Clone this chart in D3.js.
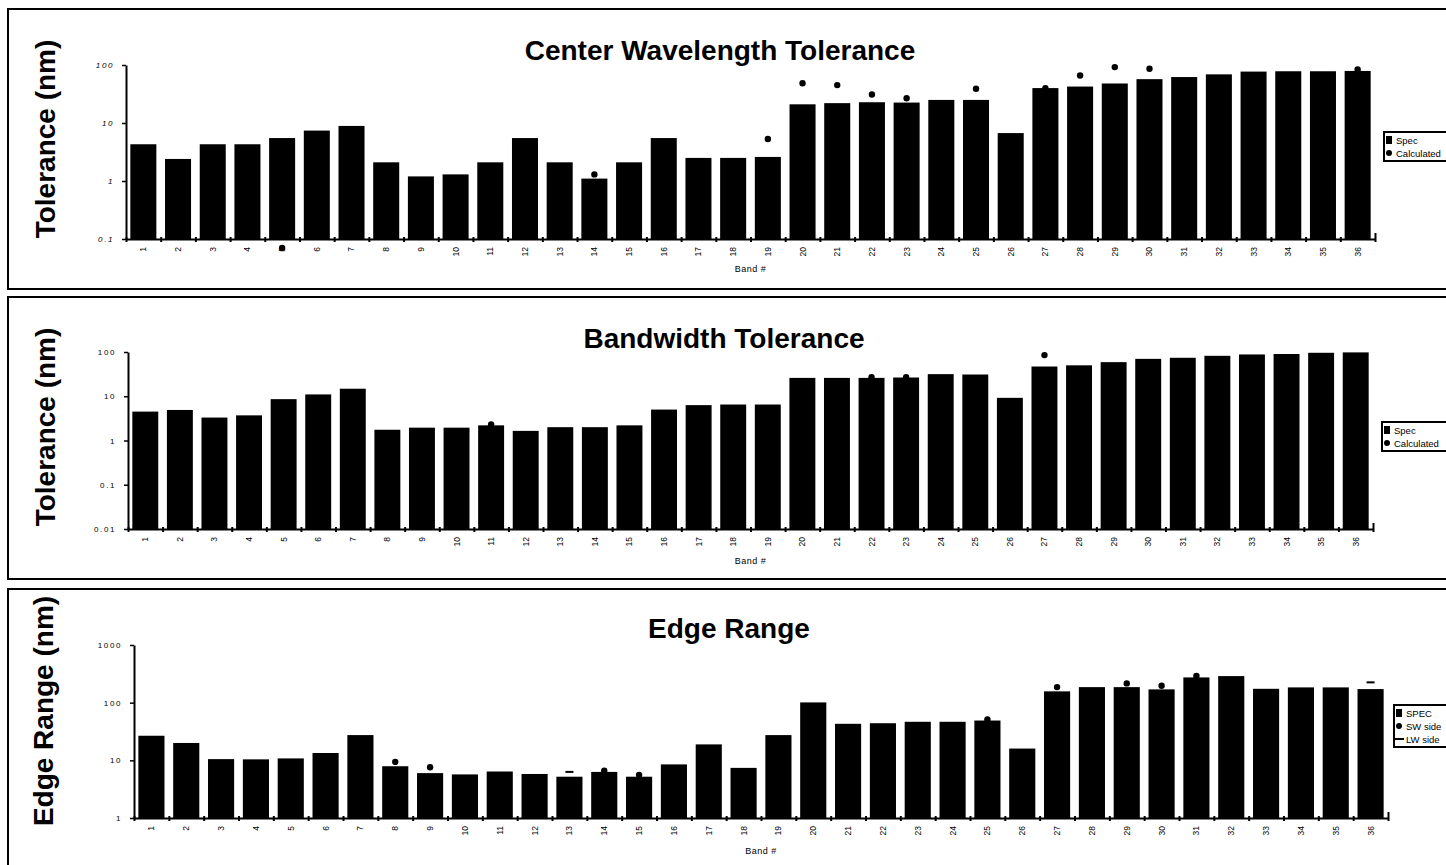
<!DOCTYPE html>
<html>
<head>
<meta charset="utf-8">
<script src="https://cdn.jsdelivr.net/npm/d3@7"></script>
<style>
  html, body { margin: 0; padding: 0; background: #fff; }
  svg { display: block; font-family: "Liberation Sans", Arial, Helvetica, sans-serif; }
</style>
</head>
<body>
<svg id="chart" width="1446" height="865"></svg>
<script>
// Band numbers along the x axis
const bandLabels = ["1","2","3","4","5","6","7","8","9","10","11","12","13","14","15","16","17","18",
  "19","20","21","22","23","24","25","26","27","28","29","30","31","32","33","34","35","36"];

// Center wavelength tolerance (nm)
const centerSpec = [4.3, 2.4, 4.3, 4.3, 5.5, 7.4, 8.9, 2.1, 1.2, 1.3, 2.1, 5.5, 2.1, 1.1, 2.1, 5.5, 2.5, 2.5,
  2.6, 21, 22, 22.8, 22.5, 25, 25, 6.7, 40, 42.5, 48, 57, 62, 69, 77, 78, 78, 79];
const centerCalc = [null, null, null, null, 0.07, null, null, null, null, null, null, null, null, 1.3, null, null, null, null,
  5.3, 48.5, 45, 31, 26.7, null, 39, null, 40, 66, 92, 86, null, null, null, null, null, 84];
const centerTicks = [0.1, 1, 10, 100];
const centerTickText = ["0.1", "1", "10", "100"];

// Bandwidth tolerance (nm)
const bandwidthSpec = [4.5, 4.9, 3.3, 3.7, 8.6, 11, 14.8, 1.75, 1.95, 1.95, 2.2, 1.65, 2.0, 2.0, 2.2, 5.0, 6.3, 6.5,
  6.5, 26, 26, 26, 26.5, 31.6, 31, 9.2, 47, 50, 59, 70, 74, 82, 88, 90, 96, 98];
const bandwidthCalc = [null, null, null, null, null, null, null, null, null, null, 2.3, null, null, null, null, null, null, null,
  null, null, null, 27, 27, null, null, null, 85, null, null, null, null, null, null, null, null, null];
const bandwidthTicks = [0.01, 0.1, 1, 10, 100];
const bandwidthTickText = ["0.01", "0.1", "1", "10", "100"];

// Edge range (nm)
const edgeSpec = [26.7, 20, 10.5, 10.4, 10.8, 13.4, 27.4, 7.9, 6.0, 5.7, 6.4, 5.8, 5.2, 6.3, 5.2, 8.5, 18.9, 7.4,
  27.4, 101, 43, 44, 46.6, 46.6, 49, 16, 157, 186, 186, 170, 274, 289, 174, 184, 184, 172];
const edgeSW = [null, null, null, null, null, null, null, 9.4, 7.6, null, null, null, null, 6.6, 5.6, null, null, null,
  null, null, null, null, null, null, 51, null, 186, null, 216, 196, 290, null, null, null, null, null];
const edgeLW = [null, null, null, null, null, null, null, null, null, null, null, null, 6.3, null, null, null, null, null,
  null, null, null, null, null, null, null, null, null, null, null, null, null, null, null, null, null, 225];
const edgeTicks = [1, 10, 100, 1000];
const edgeTickText = ["1", "10", "100", "1000"];

const svg = d3.select("#chart");

function drawPanel(p) {
  const g = svg.append("g");

  // frame around the panel (runs off the right edge)
  g.append("rect")
    .attr("x", p.frame[0]).attr("y", p.frame[1])
    .attr("width", p.frame[2]).attr("height", p.frame[3])
    .attr("fill", "none").attr("stroke", "#000").attr("stroke-width", 2);

  const x = d3.scaleBand().domain(bandLabels).range([p.x0, p.x1])
    .paddingInner(0.25).paddingOuter(0.125);
  const edges = d3.scaleLinear().domain([0, bandLabels.length]).range([p.x0, p.x1]);
  const y = d3.scaleLog().domain(p.domain).range([p.yBottom, p.yTop]);

  // bars
  g.append("g").selectAll("rect").data(p.spec).join("rect")
    .attr("x", (d, i) => x(bandLabels[i]))
    .attr("y", d => y(d))
    .attr("width", x.bandwidth())
    .attr("height", d => p.yBottom - y(d))
    .attr("fill", "#000");

  // y axis
  const yAxis = g.append("g").attr("transform", `translate(${p.x0},0)`)
    .call(d3.axisLeft(y).tickValues(p.ticks).tickFormat((d, i) => p.tickText[i]).tickSizeInner(4).tickSizeOuter(0).tickPadding(8));
  yAxis.select(".domain").attr("stroke-width", 2);
  yAxis.selectAll(".tick line").attr("stroke-width", 1.5);
  yAxis.selectAll("text").attr("font-size", 8).attr("letter-spacing", 1.6)
    .attr("font-style", p.italicTicks ? "italic" : "normal");

  // x axis: boundary ticks
  const xEdge = g.append("g").attr("transform", `translate(0,${p.yBottom})`)
    .call(d3.axisBottom(edges).tickValues(d3.range(0, bandLabels.length + 1)).tickFormat("").tickSizeOuter(0));
  xEdge.select(".domain").attr("stroke-width", 2);
  xEdge.selectAll(".tick line").attr("y1", -2).attr("y2", 3).attr("stroke-width", 2);
  xEdge.selectAll(".tick").filter(d => d === bandLabels.length).select("line").attr("y1", -6).attr("y2", 3);

  // x axis: band number labels, rotated
  const xLab = g.append("g").attr("transform", `translate(0,${p.yBottom})`)
    .call(d3.axisBottom(x).tickSize(0));
  xLab.select(".domain").remove();
  xLab.selectAll("text")
    .attr("transform", "rotate(-90)")
    .attr("x", -8).attr("y", 0).attr("dy", "0.35em")
    .style("text-anchor", "end")
    .attr("font-size", 8.5);

  // markers
  (p.dots || []).forEach(series => {
    g.append("g").selectAll("circle")
      .data(series.map((v, i) => ({ v, i })).filter(d => d.v != null))
      .join("circle")
      .attr("cx", d => x(bandLabels[d.i]) + x.bandwidth() / 2)
      .attr("cy", d => y(d.v))
      .attr("r", 3.2).attr("fill", "#000");
  });
  (p.dashes || []).forEach(series => {
    g.append("g").selectAll("line")
      .data(series.map((v, i) => ({ v, i })).filter(d => d.v != null))
      .join("line")
      .attr("x1", d => x(bandLabels[d.i]) + x.bandwidth() / 2 - 4)
      .attr("x2", d => x(bandLabels[d.i]) + x.bandwidth() / 2 + 4)
      .attr("y1", d => y(d.v)).attr("y2", d => y(d.v))
      .attr("stroke", "#000").attr("stroke-width", 2);
  });

  // titles
  g.append("text").attr("x", p.titleX).attr("y", p.titleY)
    .attr("text-anchor", "middle").attr("font-size", 28).attr("font-weight", "bold")
    .text(p.title);
  g.append("text")
    .attr("transform", `translate(${p.yLabelX},${p.yLabelY}) rotate(-90)`)
    .attr("text-anchor", "middle").attr("font-size", 28).attr("font-weight", "bold")
    .text(p.yLabel);
  g.append("text").attr("x", (p.x0 + p.x1) / 2).attr("y", p.bandY)
    .attr("text-anchor", "middle").attr("font-size", 9).attr("letter-spacing", 0.5)
    .text("Band #");

  // legend
  const lg = g.append("g").attr("transform", `translate(${p.legend[0]},${p.legend[1]})`);
  lg.append("rect").attr("x", 0).attr("y", 0).attr("width", 120).attr("height", p.legendItems.length * 13 + 3)
    .attr("fill", "#fff").attr("stroke", "#000").attr("stroke-width", 2);
  p.legendItems.forEach((it, k) => {
    const cy = 8 + k * 13;
    if (it.kind === "bar") {
      lg.append("rect").attr("x", 2).attr("y", cy - 4).attr("width", 6).attr("height", 8).attr("fill", "#000");
    } else if (it.kind === "dot") {
      lg.append("circle").attr("cx", 5).attr("cy", cy).attr("r", 3).attr("fill", "#000");
    } else {
      lg.append("line").attr("x1", 1).attr("x2", 10).attr("y1", cy).attr("y2", cy)
        .attr("stroke", "#000").attr("stroke-width", 2);
    }
    lg.append("text").attr("x", 12).attr("y", cy + 3.5).attr("font-size", 9.5).text(it.label);
  });
}

drawPanel({
  frame: [8, 9, 1460, 280],
  x0: 126, x1: 1375, yTop: 65, yBottom: 239,
  domain: [0.1, 100], ticks: centerTicks, tickText: centerTickText, italicTicks: true,
  spec: centerSpec, dots: [centerCalc],
  title: "Center Wavelength Tolerance", titleX: 720, titleY: 60,
  yLabel: "Tolerance (nm)", yLabelX: 55, yLabelY: 139, bandY: 272,
  legend: [1384, 132],
  legendItems: [{ kind: "bar", label: "Spec" }, { kind: "dot", label: "Calculated" }]
});

drawPanel({
  frame: [8, 297, 1460, 282],
  x0: 128, x1: 1373, yTop: 352, yBottom: 529,
  domain: [0.01, 100], ticks: bandwidthTicks, tickText: bandwidthTickText, italicTicks: false,
  spec: bandwidthSpec, dots: [bandwidthCalc],
  title: "Bandwidth Tolerance", titleX: 724, titleY: 348,
  yLabel: "Tolerance (nm)", yLabelX: 55, yLabelY: 427, bandY: 564,
  legend: [1382, 422],
  legendItems: [{ kind: "bar", label: "Spec" }, { kind: "dot", label: "Calculated" }]
});

drawPanel({
  frame: [8, 589, 1460, 300],
  x0: 134, x1: 1388, yTop: 645, yBottom: 818,
  domain: [1, 1000], ticks: edgeTicks, tickText: edgeTickText, italicTicks: false,
  spec: edgeSpec, dots: [edgeSW], dashes: [edgeLW],
  title: "Edge Range", titleX: 729, titleY: 638,
  yLabel: "Edge Range (nm)", yLabelX: 53, yLabelY: 711, bandY: 854,
  legend: [1394, 705],
  legendItems: [{ kind: "bar", label: "SPEC" }, { kind: "dot", label: "SW side" }, { kind: "dash", label: "LW side" }]
});
</script>
</body>
</html>
